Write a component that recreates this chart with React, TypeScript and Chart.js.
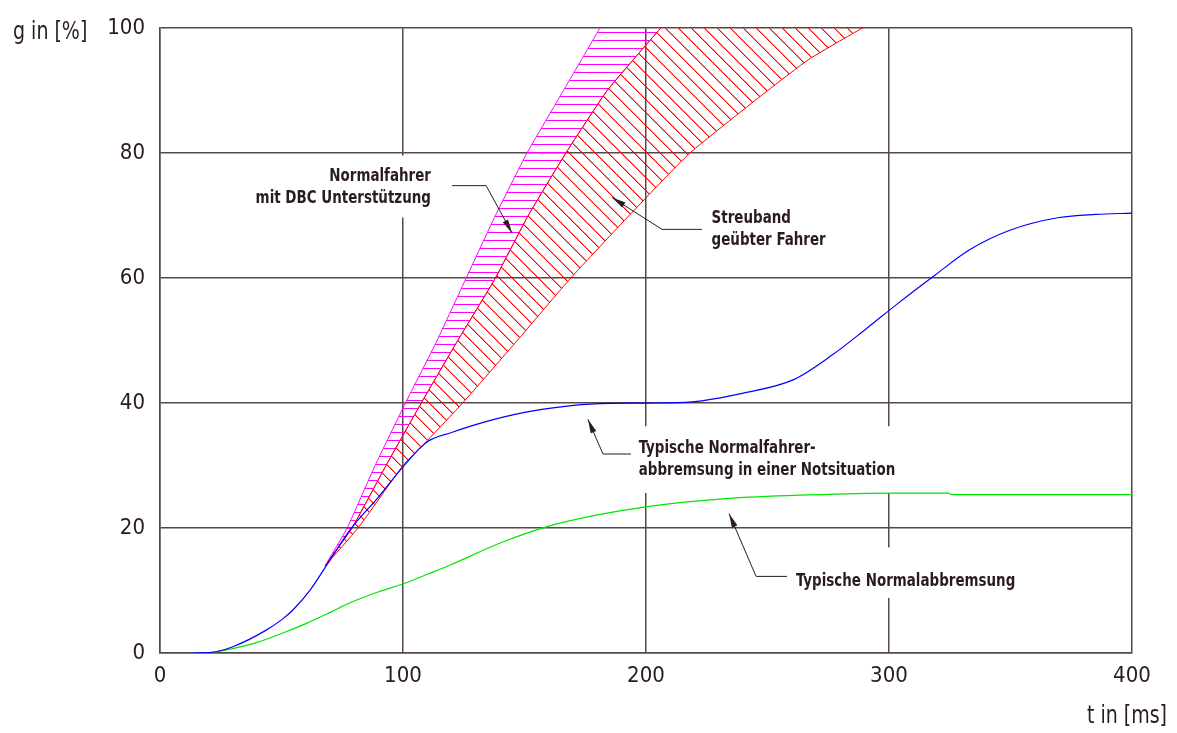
import React, { useEffect, useRef } from 'react';
import { Chart, registerables } from 'chart.js';

Chart.register(...registerables);

// ---- Axes ----
const X_MIN = 0;
const X_MAX = 400;
const X_STEP = 100;
const Y_MIN = 0;
const Y_MAX = 100;
const Y_STEP = 20;
const X_TITLE = 't in [ms]';
const Y_TITLE = 'g in [%]';

// ---- Curves (t in ms, g in %) ----
const BLUE_T = [14, 23, 30, 43, 50, 55, 62, 69, 78, 90, 100, 110, 120, 132, 150, 165, 181, 200, 219, 240, 261, 277, 290, 304.5, 319, 333, 350, 370, 385, 400];
const BLUE_G = [0, 0.2, 1.0, 3.5, 5.3, 7.0, 10.2, 14.3, 19.6, 25, 29.8, 33.8, 35.3, 36.8, 38.5, 39.4, 39.9, 40, 40.2, 41.6, 43.8, 47.8, 51.7, 56.2, 60.5, 64.5, 67.7, 69.7, 70.2, 70.4];

const GREEN_T = [22, 30, 40, 50.6, 60, 70, 78, 90, 101, 110, 119, 140, 160, 180, 200, 233, 267, 301, 324, 326, 360, 400];
const GREEN_G = [0.1, 0.7, 1.7, 3.2, 4.7, 6.5, 8.0, 9.8, 11.2, 12.6, 14.0, 17.6, 20.3, 22.1, 23.4, 24.7, 25.3, 25.6, 25.6, 25.35, 25.35, 25.35];

// Band boundaries
const BAND_G = [14, 20, 30, 40, 50, 60, 70, 80, 90, 100, 108];
const DBC_EDGE_T = [68, 77, 88.5, 101, 114, 126, 138, 151, 166, 181, 193];
const PRACTICED_INNER_T = [68, 79, 93, 107.5, 122.5, 138, 151.5, 167, 184, 206, 224];
const PRACTICED_OUTER_G = [14, 20, 30, 34, 40, 50, 60, 70, 80, 90, 95, 100, 105];
const PRACTICED_OUTER_T = [68, 81.5, 100, 110, 124.5, 147, 169, 193, 218, 250, 267, 289, 315];

// ---- Annotations ----
const NOTE_LINES = [
  ['Normalfahrer', 'mit DBC Unterstützung'],
  ['Streuband', 'geübter Fahrer'],
  ['Typische Normalfahrer-', 'abbremsung in einer Notsituation'],
  ['Typische Normalabbremsung'],
];
const NOTE_T = [111.5, 227, 197, 261.7];
const NOTE_G = [75.6, 68.9, 32.05, 10.8];
const NOTE_ALIGN: CanvasTextAlign[] = ['right', 'left', 'left', 'left'];
const LEADER_T = [
  [120.2, 134.2, 144.9],
  [223, 206.6, 186],
  [193.8, 182.3, 176.1],
  [258, 245.3, 234.2],
];
const LEADER_G = [
  [74.8, 74.8, 67.2],
  [67.8, 67.8, 72.9],
  [31.85, 31.85, 37.4],
  [12.26, 12.26, 22.3],
];
const MASK_T = [
  [32.9, 115.2],
  [194.2, 302.5],
  [259, 356],
];
const MASK_G = [
  [69.7, 79.6],
  [25.6, 36.3],
  [8.8, 16.9],
];

const NARROW = "'Liberation Sans Narrow', 'Arial Narrow', 'DejaVu Sans Condensed', 'Roboto Condensed', sans-serif";
const INK = '#2a1c1c';
const GRID = '#54484a';
const SQUEEZE = 0.88;
const NOTE_SQUEEZE = 0.83;

function pts(ts: number[], gs: number[]) {
  return ts.map((t, i) => ({ x: t, y: gs[i] }));
}

function polygon(upT: number[], upG: number[], downT: number[], downG: number[]) {
  return [...pts(upT, upG), ...pts(downT, downG).reverse()];
}

function makePattern(color: string, soft: string, kind: 'h' | 'd'): CanvasPattern | string {
  const c = document.createElement('canvas');
  const s = kind === 'h' ? 8 : 13;
  c.width = s;
  c.height = s;
  const g = c.getContext('2d');
  if (!g) return color;
  if (kind === 'h') {
    g.fillStyle = color;
    g.fillRect(0, 0, s, 1);
  } else {
    g.fillStyle = soft;
    for (let i = 0; i < s; i++) g.fillRect((i + 1) % s, i, 1, 1);
    g.fillStyle = color;
    for (let i = 0; i < s; i++) g.fillRect(i, i, 1, 1);
  }
  const p = g.createPattern(c, 'repeat');
  return p || color;
}

function arrowHead(ctx: CanvasRenderingContext2D, x0: number, y0: number, x1: number, y1: number) {
  const a = Math.atan2(y1 - y0, x1 - x0);
  const len = 14;
  const half = 3;
  const bx = x1 - len * Math.cos(a);
  const by = y1 - len * Math.sin(a);
  ctx.beginPath();
  ctx.moveTo(x1, y1);
  ctx.lineTo(bx + half * Math.sin(a), by - half * Math.cos(a));
  ctx.lineTo(bx - half * Math.sin(a), by + half * Math.cos(a));
  ctx.closePath();
  ctx.fill();
}

function squeezedText(ctx: CanvasRenderingContext2D, s: string, x: number, y: number, k: number) {
  ctx.save();
  ctx.translate(x, y);
  ctx.scale(k, 1);
  ctx.fillText(s, 0, 0);
  ctx.restore();
}

const notesPlugin = {
  id: 'notes',
  beforeDatasetsDraw(chart: any) {
    const { ctx, scales } = chart;
    const x = scales.x;
    const y = scales.y;
    ctx.save();
    ctx.fillStyle = '#ffffff';
    MASK_T.forEach((ts, i) => {
      const x0 = x.getPixelForValue(ts[0]);
      const x1 = x.getPixelForValue(ts[1]);
      const y0 = y.getPixelForValue(MASK_G[i][1]);
      const y1 = y.getPixelForValue(MASK_G[i][0]);
      ctx.fillRect(x0, y0, x1 - x0, y1 - y0);
    });
    ctx.restore();
  },
  afterDatasetsDraw(chart: any) {
    const { ctx, scales } = chart;
    const x = scales.x;
    const y = scales.y;
    ctx.save();
    ctx.fillStyle = INK;
    ctx.strokeStyle = INK;
    ctx.lineWidth = 1;
    ctx.font = `bold 18px ${NARROW}`;
    ctx.textBaseline = 'alphabetic';
    NOTE_LINES.forEach((lines, i) => {
      ctx.textAlign = NOTE_ALIGN[i];
      const px = x.getPixelForValue(NOTE_T[i]);
      const py = y.getPixelForValue(NOTE_G[i]);
      lines.forEach((s, j) => squeezedText(ctx, s, px, py + j * 22, NOTE_SQUEEZE));
    });
    LEADER_T.forEach((ts, i) => {
      const xs = ts.map((t) => x.getPixelForValue(t));
      const ys = LEADER_G[i].map((g) => y.getPixelForValue(g));
      ctx.beginPath();
      ctx.moveTo(xs[0], ys[0]);
      for (let k = 1; k < xs.length; k++) ctx.lineTo(xs[k], ys[k]);
      ctx.stroke();
      const n = xs.length;
      arrowHead(ctx, xs[n - 2], ys[n - 2], xs[n - 1], ys[n - 1]);
    });
    ctx.restore();
  },
  afterDraw(chart: any) {
    const { ctx, chartArea } = chart;
    ctx.save();
    ctx.fillStyle = INK;
    ctx.font = `24px ${NARROW}`;
    ctx.textBaseline = 'alphabetic';
    ctx.textAlign = 'left';
    squeezedText(ctx, Y_TITLE, chartArea.left - 147, chartArea.top + 11, SQUEEZE);
    ctx.textAlign = 'right';
    squeezedText(ctx, X_TITLE, chartArea.right + 35, chartArea.bottom + 70, SQUEEZE);
    ctx.restore();
  },
};

export default function App() {
  const ref = useRef<HTMLCanvasElement>(null);
  useEffect(() => {
    const canvas = ref.current;
    if (!canvas) return;
    const redHatch = makePattern('#ff0000', 'rgba(255,0,0,0.45)', 'd');
    const pinkHatch = makePattern('#ff00ff', '#ff00ff', 'h');
    const chart = new Chart(canvas, {
      type: 'line',
      data: {
        datasets: [
          {
            label: 'Typische Normalfahrerabbremsung in einer Notsituation',
            data: pts(BLUE_T, BLUE_G),
            borderColor: '#0000ff',
            borderWidth: 1.2,
            pointRadius: 0,
            fill: false,
            cubicInterpolationMode: 'monotone',
          },
          {
            label: 'Typische Normalabbremsung',
            data: pts(GREEN_T, GREEN_G),
            borderColor: '#00e600',
            borderWidth: 1.2,
            pointRadius: 0,
            fill: false,
            cubicInterpolationMode: 'monotone',
          },
          {
            label: 'Streuband geübter Fahrer',
            data: polygon(PRACTICED_INNER_T, BAND_G, PRACTICED_OUTER_T, PRACTICED_OUTER_G),
            borderColor: '#ff0000',
            borderWidth: 1,
            pointRadius: 0,
            backgroundColor: redHatch as any,
            fill: 'shape',
            tension: 0.15,
          },
          {
            label: 'Normalfahrer mit DBC Unterstützung',
            data: polygon(DBC_EDGE_T, BAND_G, PRACTICED_INNER_T, BAND_G),
            borderColor: '#ff00ff',
            borderWidth: 1,
            pointRadius: 0,
            backgroundColor: pinkHatch as any,
            fill: 'shape',
            tension: 0.15,
          },
        ],
      },
      options: {
        animation: false,
        responsive: true,
        maintainAspectRatio: false,
        devicePixelRatio: 1,
        layout: { padding: { left: 0, top: 25, right: 45, bottom: 0 } },
        plugins: {
          legend: { display: false },
          tooltip: { enabled: false },
          title: { display: false },
        },
        scales: {
          x: {
            type: 'linear',
            min: X_MIN,
            max: X_MAX,
            ticks: {
              stepSize: X_STEP,
              color: INK,
              padding: 10,
              font: { family: NARROW, size: 22 },
            },
            grid: { color: GRID, lineWidth: 1.5, drawTicks: false },
            border: { color: GRID, width: 1.5 },
            afterFit: (s: any) => {
              s.height = 80;
            },
          },
          y: {
            type: 'linear',
            min: Y_MIN,
            max: Y_MAX,
            ticks: {
              stepSize: Y_STEP,
              color: INK,
              padding: 15,
              font: { family: NARROW, size: 22 },
            },
            grid: { color: GRID, lineWidth: 1.5, drawTicks: false },
            border: { color: GRID, width: 1.5 },
            afterFit: (s: any) => {
              s.width = 160;
            },
          },
        },
      },
      plugins: [notesPlugin],
    } as any);
    return () => chart.destroy();
  }, []);
  return (
    <div style={{ position: 'fixed', left: 0, top: 0, width: 1177, height: 733, background: '#ffffff' }}>
      <canvas ref={ref} />
    </div>
  );
}
